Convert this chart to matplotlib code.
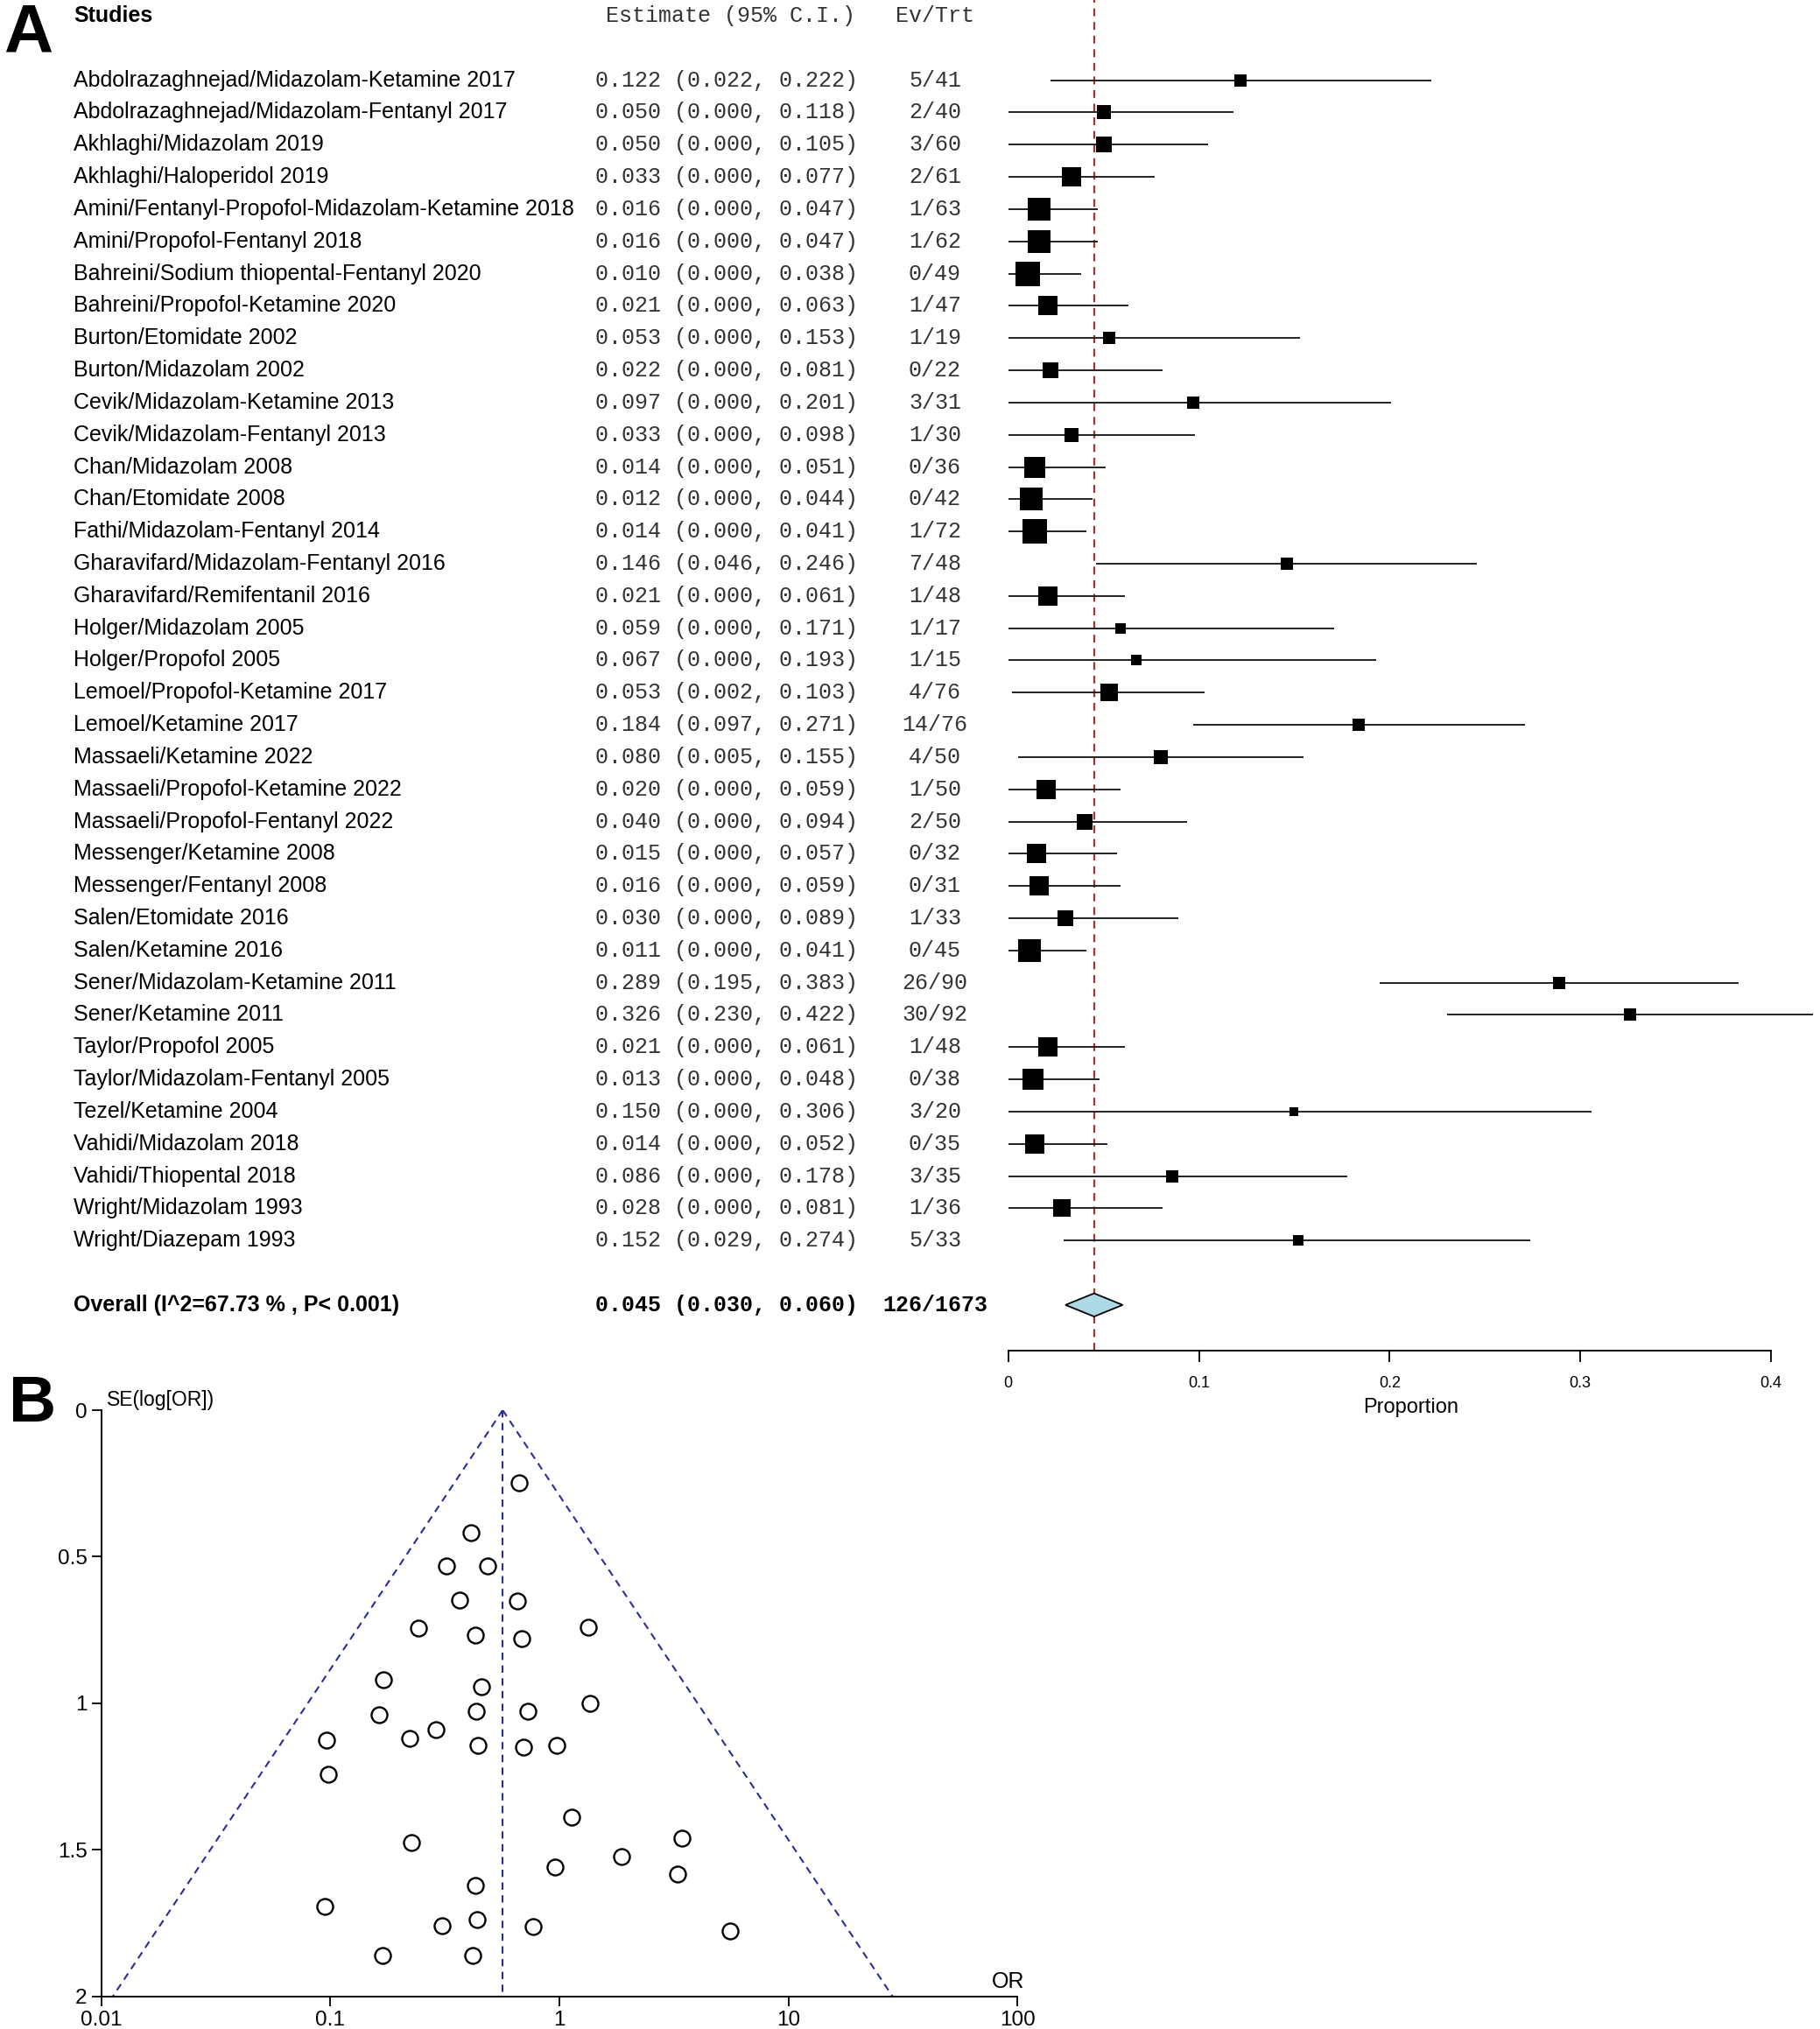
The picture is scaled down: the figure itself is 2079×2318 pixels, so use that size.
"""Panel A: forest plot of pooled proportion; panel B: funnel plot (SE vs OR)."""

import numpy as np
import matplotlib
matplotlib.use("Agg")
import matplotlib.pyplot as plt
from matplotlib.patches import Polygon
from matplotlib.transforms import blended_transform_factory

# ---- panel A data -------------------------------------------------------
studies = [
    "Abdolrazaghnejad/Midazolam-Ketamine 2017",
    "Abdolrazaghnejad/Midazolam-Fentanyl 2017",
    "Akhlaghi/Midazolam 2019",
    "Akhlaghi/Haloperidol 2019",
    "Amini/Fentanyl-Propofol-Midazolam-Ketamine 2018",
    "Amini/Propofol-Fentanyl 2018",
    "Bahreini/Sodium thiopental-Fentanyl 2020",
    "Bahreini/Propofol-Ketamine 2020",
    "Burton/Etomidate 2002",
    "Burton/Midazolam 2002",
    "Cevik/Midazolam-Ketamine 2013",
    "Cevik/Midazolam-Fentanyl 2013",
    "Chan/Midazolam 2008",
    "Chan/Etomidate 2008",
    "Fathi/Midazolam-Fentanyl 2014",
    "Gharavifard/Midazolam-Fentanyl 2016",
    "Gharavifard/Remifentanil 2016",
    "Holger/Midazolam 2005",
    "Holger/Propofol 2005",
    "Lemoel/Propofol-Ketamine 2017",
    "Lemoel/Ketamine 2017",
    "Massaeli/Ketamine 2022",
    "Massaeli/Propofol-Ketamine 2022",
    "Massaeli/Propofol-Fentanyl 2022",
    "Messenger/Ketamine 2008",
    "Messenger/Fentanyl 2008",
    "Salen/Etomidate 2016",
    "Salen/Ketamine 2016",
    "Sener/Midazolam-Ketamine 2011",
    "Sener/Ketamine 2011",
    "Taylor/Propofol 2005",
    "Taylor/Midazolam-Fentanyl 2005",
    "Tezel/Ketamine 2004",
    "Vahidi/Midazolam 2018",
    "Vahidi/Thiopental 2018",
    "Wright/Midazolam 1993",
    "Wright/Diazepam 1993",
]
est = [0.122, 0.050, 0.050, 0.033, 0.016, 0.016, 0.010, 0.021, 0.053, 0.022,
       0.097, 0.033, 0.014, 0.012, 0.014, 0.146, 0.021, 0.059, 0.067, 0.053,
       0.184, 0.080, 0.020, 0.040, 0.015, 0.016, 0.030, 0.011, 0.289, 0.326,
       0.021, 0.013, 0.150, 0.014, 0.086, 0.028, 0.152]
lo = [0.022, 0.000, 0.000, 0.000, 0.000, 0.000, 0.000, 0.000, 0.000, 0.000,
      0.000, 0.000, 0.000, 0.000, 0.000, 0.046, 0.000, 0.000, 0.000, 0.002,
      0.097, 0.005, 0.000, 0.000, 0.000, 0.000, 0.000, 0.000, 0.195, 0.230,
      0.000, 0.000, 0.000, 0.000, 0.000, 0.000, 0.029]
hi = [0.222, 0.118, 0.105, 0.077, 0.047, 0.047, 0.038, 0.063, 0.153, 0.081,
      0.201, 0.098, 0.051, 0.044, 0.041, 0.246, 0.061, 0.171, 0.193, 0.103,
      0.271, 0.155, 0.059, 0.094, 0.057, 0.059, 0.089, 0.041, 0.383, 0.422,
      0.061, 0.048, 0.306, 0.052, 0.178, 0.081, 0.274]
events = [5, 2, 3, 2, 1, 1, 0, 1, 1, 0, 3, 1, 0, 0, 1, 7, 1, 1, 1, 4, 14, 4,
          1, 2, 0, 0, 1, 0, 26, 30, 1, 0, 3, 0, 3, 1, 5]
totals = [41, 40, 60, 61, 63, 62, 49, 47, 19, 22, 31, 30, 36, 42, 72, 48, 48,
          17, 15, 76, 76, 50, 50, 50, 32, 31, 33, 45, 90, 92, 48, 38, 20, 35,
          35, 36, 33]
overall_est, overall_lo, overall_hi = 0.045, 0.030, 0.060
overall_label = "Overall (I^2=67.73 % , P< 0.001)"
prop_ticks = [0, 0.1, 0.2, 0.3, 0.4]

# ---- panel B data -------------------------------------------------------
funnel_or = [0.668, 0.410, 0.322, 0.485, 0.366, 0.656, 0.242, 1.334, 0.430,
             0.687, 0.170, 0.456, 1.361, 0.164, 0.432, 0.729, 0.289, 0.0964,
             0.223, 0.442, 0.697, 0.979, 0.0977, 1.128, 3.43, 0.226, 1.866,
             0.955, 3.28, 0.430, 0.095, 0.438, 0.308, 0.766, 5.56, 0.169, 0.419]
funnel_se = [0.248, 0.417, 0.531, 0.531, 0.648, 0.652, 0.742, 0.739, 0.767,
             0.780, 0.919, 0.944, 1.000, 1.040, 1.026, 1.026, 1.090, 1.126,
             1.121, 1.143, 1.148, 1.143, 1.243, 1.389, 1.459, 1.475, 1.524,
             1.559, 1.582, 1.622, 1.693, 1.738, 1.757, 1.760, 1.775, 1.859,
             1.859]
funnel_center = 0.566
or_ticks = [0.01, 0.1, 1, 10, 100]
se_ticks = [0, 0.5, 1, 1.5, 2]

SANS = ["Liberation Sans", "DejaVu Sans"]
MONO = ["Liberation Mono", "DejaVu Sans Mono"]
plt.rcParams["font.family"] = SANS

fig = plt.figure(figsize=(20.79, 23.18), dpi=100)

# ---- A: forest plot ------------------------------------------------------
ax = fig.add_axes([0.554, 0.3343, 0.419, 0.6657])
n = len(studies)
rows = np.arange(n)
overall_row = n + 1
ax.set_xlim(0, 0.4)
ax.set_ylim(n + 2.42, -2.49)

ax.axvline(overall_est, color="#a83232", ls=(0, (4, 3)), lw=1.6, zorder=1)
ax.hlines(rows, lo, hi, color="#222222", lw=1.4, clip_on=False, zorder=2)
se = (np.array(hi) - np.array(est)) / 1.96
side_px = 27 * (0.0143 / se) ** 0.55
for y, x, s in zip(rows, est, side_px):
    ax.plot(x, y, "s", color="black", ms=s * 0.72, mew=0, zorder=3)
diamond = Polygon([(overall_lo, overall_row), (overall_est, overall_row - 0.36),
                   (overall_hi, overall_row), (overall_est, overall_row + 0.36)],
                  closed=True, fc="#add8e6", ec="black", lw=1.3, zorder=3)
ax.add_patch(diamond)

for side in ("left", "top", "right"):
    ax.spines[side].set_visible(False)
ax.spines["bottom"].set_linewidth(1.4)
ax.set_yticks([])
ax.set_xticks(prop_ticks)
ax.set_xticklabels(["0", "0.1", "0.2", "0.3", "0.4"])
ax.tick_params(axis="x", direction="out", length=9, width=1.3, labelsize=13, pad=12)
ax.set_xlabel("Proportion", fontsize=17)
ax.xaxis.set_label_coords(0.528, -0.035)

tr = blended_transform_factory(fig.transFigure, ax.transData)
x_lab, x_est, x_ev = 0.0404, 0.327, 0.5137
ax.text(x_lab, -2, "Studies", transform=tr, fontsize=18, weight="bold", va="center")
ax.text(x_est + 0.006, -2, "Estimate (95% C.I.)", transform=tr, fontsize=18,
        family=MONO, color="#333333", va="center")
ax.text(x_ev, -2, "Ev/Trt", transform=tr, fontsize=18, family=MONO,
        color="#333333", va="center", ha="center")
for y, name, e, l, h, ev, tot in zip(rows, studies, est, lo, hi, events, totals):
    ax.text(x_lab, y, name, transform=tr, fontsize=18, va="center")
    ax.text(x_est, y, f"{e:.3f} ({l:.3f}, {h:.3f})", transform=tr, fontsize=18,
            family=MONO, color="#333333", va="center")
    ax.text(x_ev, y, f"{ev}/{tot}", transform=tr, fontsize=18, family=MONO,
            color="#333333", va="center", ha="center")
ax.text(x_lab, overall_row, overall_label, transform=tr, fontsize=18,
        weight="bold", va="center")
ax.text(x_est, overall_row,
        f"{overall_est:.3f} ({overall_lo:.3f}, {overall_hi:.3f})", transform=tr,
        fontsize=18, family=MONO, weight="bold", va="center")
ax.text(x_ev, overall_row, f"{sum(events)}/{sum(totals)}", transform=tr,
        fontsize=18, family=MONO, weight="bold", va="center", ha="center")

fig.text(0.002, 0.999, "A", fontsize=56, weight="bold", va="top")
fig.text(0.005, 0.3227, "B", fontsize=54, weight="bold", va="top")

# ---- B: funnel plot ------------------------------------------------------
fax = fig.add_axes([0.0556, 0.016, 0.5034, 0.289])
fax.set_xscale("log")
fax.set_xlim(0.01, 100)
fax.set_ylim(2, 0)
navy = "#2b2b9c"
se_edge = np.array([0.0, 2.0])
fax.plot(funnel_center * np.exp(-1.96 * se_edge), se_edge, color=navy,
         ls=(0, (4, 3)), lw=1.5)
fax.plot(funnel_center * np.exp(1.96 * se_edge), se_edge, color=navy,
         ls=(0, (4, 3)), lw=1.5)
fax.plot([funnel_center, funnel_center], [0, 2], color=navy, ls=(0, (4, 3)), lw=1.5)
fax.plot(funnel_or, funnel_se, "o", mfc="none", mec="black", ms=13, mew=1.7,
         clip_on=False)

fax.spines["top"].set_visible(False)
fax.spines["right"].set_visible(False)
for side in ("left", "bottom"):
    fax.spines[side].set_linewidth(1.4)
fax.set_xticks(or_ticks)
fax.set_xticklabels(["0.01", "0.1", "1", "10", "100"])
fax.xaxis.set_minor_locator(matplotlib.ticker.NullLocator())
fax.set_yticks(se_ticks)
fax.set_yticklabels(["0", "0.5", "1", "1.5", "2"])
fax.tick_params(direction="out", length=8, width=1.3, labelsize=17.5)
fax.text(0.006, 1.0, "SE(log[OR])", transform=fax.transAxes, fontsize=16.5,
         va="bottom")
fax.text(1.008, 0.008, "OR", transform=fax.transAxes, fontsize=18,
         ha="right", va="bottom")

fig.savefig("out.png", dpi=100)
